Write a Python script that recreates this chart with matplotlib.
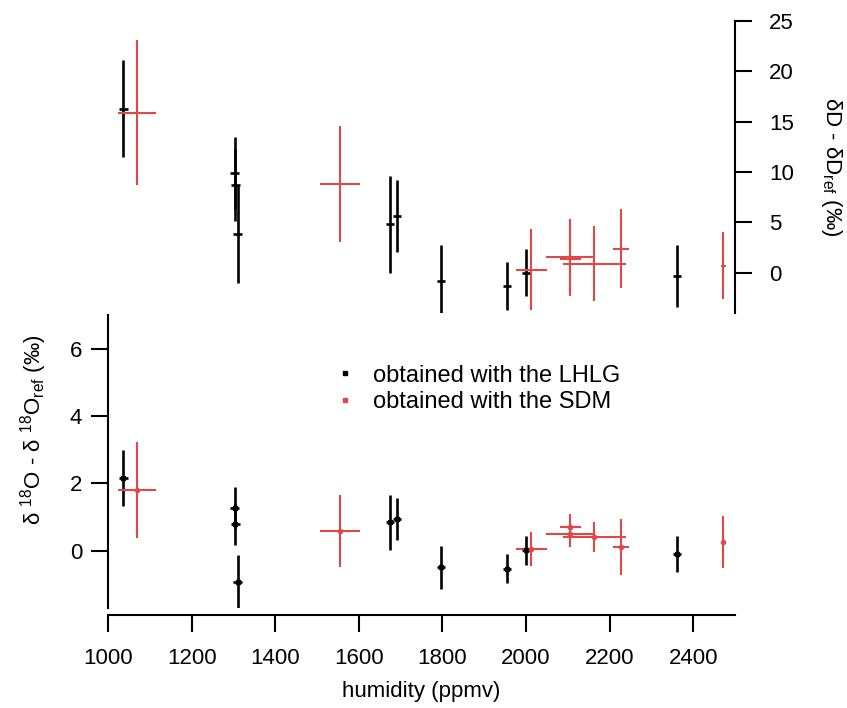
import matplotlib
matplotlib.use('Agg')
import matplotlib.pyplot as plt
from matplotlib.lines import Line2D

plt.rcParams['font.family'] = ['Liberation Sans', 'DejaVu Sans']
plt.rcParams['mathtext.default'] = 'regular'

# LHLG (black) points
lhlg_hum = [1037, 1303, 1305, 1310, 1674, 1691, 1797, 1955, 2001, 2361]
lhlg_dD = [16.3, 9.9, 8.7, 3.8, 4.8, 5.65, -0.8, -1.35, 0.0, -0.3]
lhlg_dD_err = [4.8, 3.6, 3.6, 4.8, 4.8, 3.6, 3.6, 2.4, 2.35, 3.1]
lhlg_d18O = [2.17, 1.28, 0.80, -0.94, 0.84, 0.95, -0.49, -0.54, 0.01, -0.10]
lhlg_d18O_err = [0.83, 0.62, 0.62, 0.80, 0.82, 0.63, 0.64, 0.43, 0.42, 0.53]

# SDM (red) points
sdm_hum = [1070, 1555, 2013, 2106, 2106, 2163, 2227, 2472]
sdm_hum_err = [46, 49, 37, 57, 25, 75, 20, 6]
sdm_dD = [15.9, 8.8, 0.3, 1.6, 1.4, 0.9, 2.4, 0.7]
sdm_dD_err = [7.2, 5.75, 4.0, 3.75, 3.75, 3.75, 3.95, 3.35]
sdm_d18O = [1.80, 0.59, 0.05, 0.50, 0.70, 0.40, 0.11, 0.26]
sdm_d18O_err = [1.43, 1.07, 0.5, 0.4, 0.4, 0.45, 0.82, 0.78]

black = '#000000'
red = '#e04848'
fs = 16

fig = plt.figure(figsize=(8.47, 7.08), dpi=100)
ax_top = fig.add_axes([0.1275, 0.5579, 0.7403, 0.4124])
ax_bot = fig.add_axes([0.1275, 0.1412, 0.7403, 0.4138], sharex=ax_top)

# top panel: dD
ax_top.errorbar(lhlg_hum, lhlg_dD, yerr=lhlg_dD_err, xerr=10, fmt='none',
                ecolor=black, elinewidth=1.9, capsize=0)
ax_top.errorbar(sdm_hum, sdm_dD, yerr=sdm_dD_err, xerr=sdm_hum_err, fmt='none',
                ecolor=red, elinewidth=1.5, capsize=0)

# bottom panel: d18O
ax_bot.errorbar(lhlg_hum, lhlg_d18O, yerr=lhlg_d18O_err, xerr=10, fmt='s',
                color=black, markersize=3, ecolor=black, elinewidth=1.9, capsize=0)
ax_bot.errorbar(sdm_hum, sdm_d18O, yerr=sdm_d18O_err, xerr=sdm_hum_err, fmt='o',
                color=red, markersize=3, ecolor=red, elinewidth=1.5, capsize=0)

ax_top.set_xlim(1000, 2500)
ax_top.set_ylim(-4, 25)
ax_bot.set_ylim(-1.7, 7)

for sp in ['left', 'top', 'bottom']:
    ax_top.spines[sp].set_visible(False)
ax_top.spines['right'].set_linewidth(1.5)
ax_top.yaxis.tick_right()
ax_top.set_yticks([0, 5, 10, 15, 20, 25])
ax_top.tick_params(axis='y', direction='out', length=12.5, width=1.5, labelsize=fs, pad=12)
ax_top.tick_params(axis='x', bottom=False, labelbottom=False)
ax_top.set_ylabel('δD - δD$_{ref}$ (‰)', fontsize=fs, rotation=270)
ax_top.yaxis.set_label_position('right')
ax_top.yaxis.set_label_coords(1.173, 0.5)

for sp in ['right', 'top']:
    ax_bot.spines[sp].set_visible(False)
ax_bot.spines['left'].set_linewidth(1.5)
ax_bot.spines['bottom'].set_linewidth(1.5)
ax_bot.spines['bottom'].set_position(('outward', 5))
ax_bot.set_yticks([0, 2, 4, 6])
ax_bot.set_xticks([1000, 1200, 1400, 1600, 1800, 2000, 2200, 2400])
ax_bot.tick_params(axis='y', direction='out', length=12.5, width=1.5, labelsize=fs, pad=6)
ax_bot.tick_params(axis='x', direction='out', length=12.5, width=1.5, labelsize=fs, pad=11)
ax_bot.set_xlabel('humidity (ppmv)', fontsize=fs, labelpad=9)
ax_bot.set_ylabel('δ $^{18}$O - δ $^{18}$O$_{ref}$ (‰)', fontsize=fs)
ax_bot.yaxis.set_label_coords(-0.094, 0.61)

handles = [Line2D([], [], marker='s', ls='none', color=black, markersize=3.5),
           Line2D([], [], marker='s', ls='none', color=red, markersize=3.5)]
ax_bot.legend(handles, ['obtained with the LHLG', 'obtained with the SDM'],
              loc='upper left', bbox_to_anchor=(0.325, 0.903), frameon=False,
              fontsize=17, handlelength=1, handletextpad=0.7, labelspacing=0.2)

fig.savefig('out.png', dpi=100)
